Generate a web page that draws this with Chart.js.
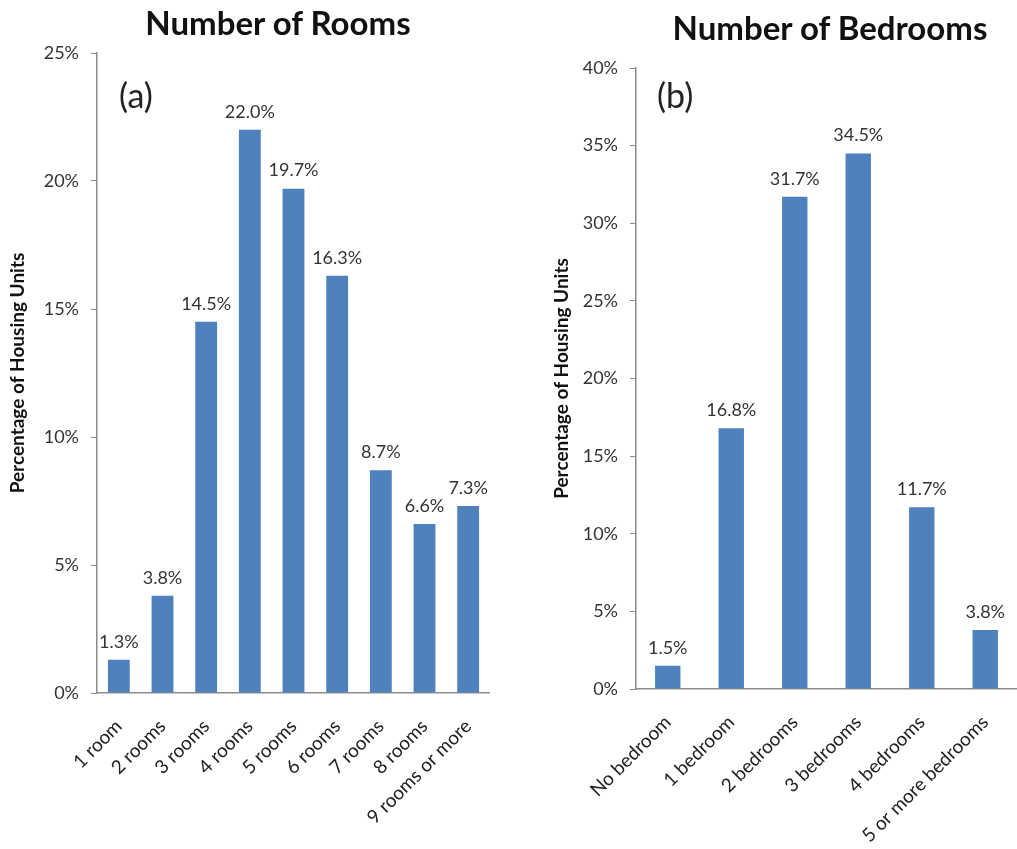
<!DOCTYPE html>
<html>
<head>
<meta charset="utf-8">
<script src="https://cdn.jsdelivr.net/npm/chart.js@4.4.0/dist/chart.umd.min.js"></script>
<style>
  body { margin: 0; background: #fff; font-family: Lato, "Open Sans", sans-serif; }
  .box { position: absolute; top: 0; height: 849px; }
  .ttl { position: absolute; width: 400px; text-align: center; font-size: 33px; font-weight: bold;
         color: #111; line-height: 40px; white-space: nowrap; }
</style>
</head>
<body>
<div class="box" style="left:0;width:490px"><canvas id="rooms"></canvas></div>
<div class="box" style="left:540px;width:477px"><canvas id="bedrooms"></canvas></div>
<div class="ttl" style="left:78px;top:2px">Number of Rooms</div>
<div class="ttl" style="left:630px;top:7px">Number of Bedrooms</div>
<script>
const roomLabels = ["1 room", "2 rooms", "3 rooms", "4 rooms", "5 rooms", "6 rooms", "7 rooms", "8 rooms", "9 rooms or more"];
const roomValues = [1.3, 3.8, 14.5, 22.0, 19.7, 16.3, 8.7, 6.6, 7.3];
const roomTicks = [0, 5, 10, 15, 20, 25];

const bedroomLabels = ["No bedroom", "1 bedroom", "2 bedrooms", "3 bedrooms", "4 bedrooms", "5 or more bedrooms"];
const bedroomValues = [1.5, 16.8, 31.7, 34.5, 11.7, 3.8];
const bedroomTicks = [0, 5, 10, 15, 20, 25, 30, 35, 40];

const FONT = "Lato, 'Open Sans', sans-serif";
const BLUE = "#4F81BD";
const AXIS = "#8c8c8c";

// value labels above each bar plus the (a)/(b) tag
const barLabels = {
  id: "barLabels",
  afterDatasetsDraw(chart, args, opts) {
    const ctx = chart.ctx;
    ctx.save();
    ctx.fillStyle = "#333";
    ctx.font = "18px " + FONT;
    ctx.textAlign = "center";
    ctx.textBaseline = "bottom";
    const ds = chart.data.datasets[0];
    chart.getDatasetMeta(0).data.forEach((bar, i) => {
      ctx.fillText(ds.data[i].toFixed(1) + "%", bar.x, bar.y - 9);
    });
    ctx.font = "34px " + FONT;
    ctx.fillStyle = "#222";
    ctx.textAlign = "left";
    ctx.textBaseline = "middle";
    ctx.fillText(opts.tag, opts.tagX, opts.tagY);
    ctx.restore();
  }
};

function makeChart(id, labels, values, ticks, opt) {
  return new Chart(document.getElementById(id), {
    type: "bar",
    data: {
      labels: labels,
      datasets: [{
        data: values,
        backgroundColor: BLUE,
        barPercentage: opt.barPct,
        categoryPercentage: 1
      }]
    },
    options: {
      responsive: true,
      maintainAspectRatio: false,
      animation: false,
      layout: { padding: { left: 0, right: 0, top: opt.top, bottom: 0 } },
      plugins: {
        legend: { display: false },
        tooltip: { enabled: false },
        barLabels: { tag: opt.tag, tagX: opt.tagX, tagY: opt.tagY }
      },
      scales: {
        x: {
          grid: { display: true, drawOnChartArea: false, drawTicks: false, color: AXIS },
          border: { display: true, color: AXIS, width: 1.5 },
          ticks: {
            color: "#222",
            font: { family: FONT, size: 19 },
            minRotation: 45,
            maxRotation: 45,
            padding: 22,
            autoSkip: false
          },
          afterFit(scale) {
            scale.height = opt.xHeight;
            scale.paddingLeft = 0;
            scale.paddingRight = 0;
          }
        },
        y: {
          min: 0,
          max: ticks[ticks.length - 1],
          afterBuildTicks(scale) { scale.ticks = ticks.map(v => ({ value: v })); },
          grid: { display: true, drawOnChartArea: false, tickLength: 6, color: AXIS },
          border: { display: true, color: AXIS, width: 1.5 },
          ticks: {
            color: "#333",
            font: { family: FONT, size: 18 },
            padding: 12,
            callback: v => v + "%"
          },
          title: {
            display: true,
            text: "Percentage of Housing Units",
            color: "#111",
            font: { family: FONT, size: 19, weight: "bold" },
            padding: { top: opt.yTitlePad, bottom: 0 }
          },
          afterFit(scale) { scale.width = opt.yWidth; }
        }
      }
    },
    plugins: [barLabels]
  });
}

makeChart("rooms", roomLabels, roomValues, roomTicks, {
  top: 53, yWidth: 97, xHeight: 156, yTitlePad: 6, barPct: 0.5,
  tag: "(a)", tagX: 119, tagY: 97
});

makeChart("bedrooms", bedroomLabels, bedroomValues, bedroomTicks, {
  top: 68, yWidth: 96, xHeight: 160, yTitlePad: 10, barPct: 0.4,
  tag: "(b)", tagX: 117, tagY: 97
});
</script>
</body>
</html>
